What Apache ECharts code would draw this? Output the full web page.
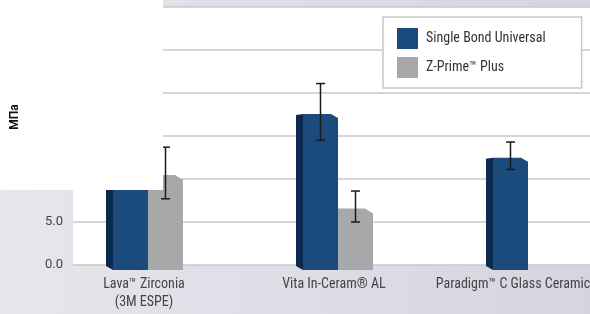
<!DOCTYPE html>
<html>
<head>
<meta charset="utf-8">
<script src="https://cdn.jsdelivr.net/npm/echarts@6/dist/echarts.min.js"></script>
<style>
  html, body { margin: 0; padding: 0; }
  #chart { width: 590px; height: 314px; }
</style>
</head>
<body>
<div id="chart"></div>
<script>
var categories = ['Lava\u2122 Zirconia\n(3M ESPE)', 'Vita In-Ceram\u00ae AL', 'Paradigm\u2122 C Glass Ceramic'];
var seriesNames = ['Single Bond Universal', 'Z-Prime\u2122 Plus'];
var bondValues = [14.5, 17.8, 12.7];
var bondErrors = [2.5, 3.3, 1.6];
var zprimeValues = [10.7, 6.8, null];
var zprimeErrors = [3.0, 1.8, null];

var fontNarrow = "'Liberation Sans Narrow', 'Roboto Condensed', Roboto, sans-serif";

function armarDatos(valores, errores){
  var datos = [];
  for (var i = 0; i < valores.length; i++) {
    if (valores[i] == null) continue;
    datos.push([i, valores[i], errores[i]]);
  }
  return datos;
}

function errorBar(x, yA, yB){
  var st = { stroke: '#1a1a1a', lineWidth: 1.5 };
  return [
    { type: 'line', shape: { x1: x, y1: yA, x2: x, y2: yB }, style: st },
    { type: 'line', shape: { x1: x - 4.5, y1: yA, x2: x + 4.5, y2: yA }, style: st },
    { type: 'line', shape: { x1: x - 4.5, y1: yB, x2: x + 4.5, y2: yB }, style: st }
  ];
}

// barra "3D" azul, con cara lateral oscura
function barraAzul(params, api){
  var xi = api.value(0), v = api.value(1), e = api.value(2);
  var base = api.coord([xi, 0]);
  var c = base[0], yB = base[1];
  var yv = api.coord([xi, v])[1];
  var yT = yv + 2;
  var x0 = c - 31, x1 = c + 4, lado = 7;
  var hijos = [
    { type: 'polygon', shape: { points: [[x0 - lado, yT + 1], [x0, yT], [x0, yB + 5], [x0 - lado, yB + 1]] }, style: { fill: '#0c2a50' } },
    { type: 'polygon', shape: { points: [[x0, yT], [x1 - 7, yT], [x1, yT + 4], [x1, yB + 5], [x0, yB + 5]] }, style: { fill: '#1b4a7d' } }
  ];
  var cx = (x0 + x1) / 2;
  hijos = hijos.concat(errorBar(cx, api.coord([xi, v + e])[1], api.coord([xi, v - e])[1]));
  return { type: 'group', children: hijos };
}

function barraGris(params, api){
  var xi = api.value(0), v = api.value(1), e = api.value(2);
  var base = api.coord([xi, 0]);
  var c = base[0], yB = base[1];
  var yv = api.coord([xi, v])[1];
  var yT = yv + 2;
  var x0 = c + 4, x1 = c + 39;
  var hijos = [
    { type: 'polygon', shape: { points: [[x0, yT], [x1 - 8, yT], [x1, yT + 5], [x1, yB + 5], [x0, yB + 5]] }, style: { fill: '#a7a8aa' } }
  ];
  var cx = (x0 + x1) / 2;
  hijos = hijos.concat(errorBar(cx, api.coord([xi, v + e])[1], api.coord([xi, v - e])[1]));
  return { type: 'group', children: hijos };
}

var myChart = echarts.init(document.getElementById('chart'), null, { renderer: 'canvas' });
myChart.setOption({
  animation: false,
  backgroundColor: {
    type: 'linear', x: 0, y: 0, x2: 1, y2: 0,
    colorStops: [{ offset: 0, color: '#e6e6ec' }, { offset: 1, color: '#d4d5e0' }]
  },
  grid: { left: 73, right: 0, top: 7, bottom: 49, show: true, backgroundColor: '#ffffff', borderWidth: 0, containLabel: false, outerBoundsMode: 'none' },
  legend: {
    orient: 'vertical',
    left: 383, top: 17,
    padding: [11, 36, 10, 14],
    itemGap: 8,
    itemWidth: 21, itemHeight: 21,
    icon: 'rect',
    backgroundColor: '#ffffff',
    borderColor: '#c8c8c8', borderWidth: 1.5,
    textStyle: { color: '#333', fontSize: 14, fontFamily: fontNarrow, padding: [0, 0, 0, 3] },
    data: seriesNames
  },
  xAxis: {
    type: 'value',
    min: -0.3737, max: 2.3474,
    splitLine: { show: false },
    axisLine: { show: false },
    axisTick: { show: false },
    axisLabel: {
      customValues: [0, 1, 2],
      formatter: function(v){
        var i = Math.round(v);
        if (i === categories.length - 1) return '{ult|' + categories[i] + '}';
        return categories[i];
      },
      rich: { ult: { color: '#444', fontSize: 14, fontFamily: fontNarrow, padding: [0, 22, 0, 0] } },
      color: '#444', fontSize: 14, fontFamily: fontNarrow, lineHeight: 18, margin: 10
    }
  },
  yAxis: {
    type: 'value',
    min: 0, max: 30, interval: 5,
    axisLine: { show: true, lineStyle: { color: '#d0d0d0', width: 1 } },
    axisTick: { show: true, length: 5, lineStyle: { color: '#c8c8c8', width: 1.5 } },
    axisLabel: { formatter: function(v){ return v.toFixed(1); }, color: '#444', fontSize: 13, fontFamily: 'Roboto, sans-serif', margin: 10 },
    splitLine: { lineStyle: { color: '#c8c8c8', width: 1.5 } }
  },
  series: [{
    name: seriesNames[0],
    type: 'custom',
    itemStyle: { color: '#1b4a7d' },
    renderItem: barraAzul,
    data: armarDatos(bondValues, bondErrors)
  }, {
    name: seriesNames[1],
    type: 'custom',
    itemStyle: { color: '#a7a8aa' },
    renderItem: barraGris,
    data: armarDatos(zprimeValues, zprimeErrors)
  }],
  graphic: [
    { type: 'rect', z: 100, shape: { x: 0, y: 0, width: 163, height: 190 }, style: { fill: '#ffffff' } },
    { type: 'text', z: 101, x: 15, y: 117, rotation: Math.PI / 2,
      style: { text: '\u041c\u041f\u0430', fill: '#111', font: 'bold 12px Roboto, sans-serif', textAlign: 'center', textVerticalAlign: 'middle' } }
  ]
});
</script>
</body>
</html>
